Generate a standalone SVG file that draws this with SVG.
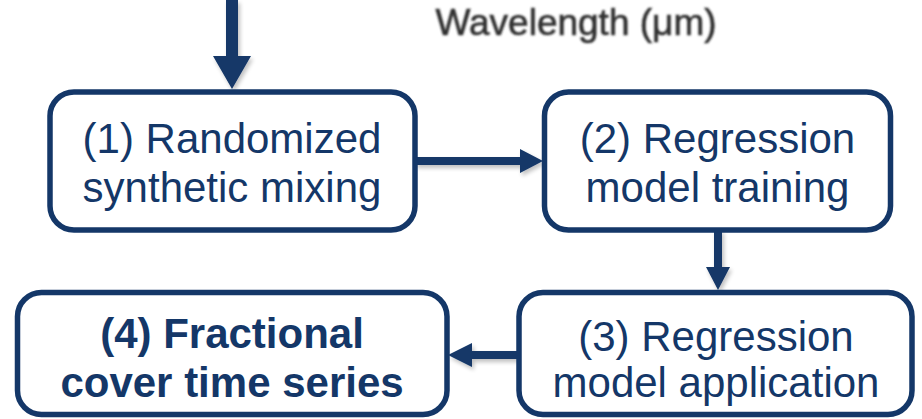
<svg xmlns="http://www.w3.org/2000/svg" width="922" height="419" viewBox="0 0 922 419">
<defs>
<style>
.box{fill:#ffffff;stroke:#143768;stroke-width:5.5}
.t{font-family:"Liberation Sans",Arial,sans-serif;font-size:42px;fill:#143768;text-anchor:middle}
.b{font-weight:bold}
.arrow{fill:#143768;stroke:none}
.wl{font-family:"Liberation Sans",Arial,sans-serif;font-size:37px;fill:#2e2e2e;text-anchor:middle;stroke:#2e2e2e;stroke-width:0.6}
</style>
<filter id="blur" x="-5%" y="-20%" width="110%" height="140%"><feGaussianBlur stdDeviation="0.8"/></filter>
<filter id="shadow" x="-20%" y="-20%" width="140%" height="160%">
<feGaussianBlur in="SourceAlpha" stdDeviation="2"/>
<feOffset dx="2" dy="3" result="o"/>
<feComponentTransfer><feFuncA type="linear" slope="0.25"/></feComponentTransfer>
<feMerge><feMergeNode/><feMergeNode in="SourceGraphic"/></feMerge>
</filter>
</defs>
<rect width="922" height="419" fill="#ffffff"/>
<text class="wl" x="576" y="35" filter="url(#blur)">Wavelength (μm)</text>
<g id="connectors" filter="url(#shadow)">
<path class="arrow" d="M226,0 H238 V56 H251 L232,89 L213,56 H226 Z"/>
<path class="arrow" d="M415,157 H520 V149 L543,161 L520,173 V165 H415 Z"/>
<path class="arrow" d="M714,230 H722 V267 H730 L718,290 L706,267 H714 Z"/>
<path class="arrow" d="M519,351 H472 V343 L448,355 L472,367 V359 H519 Z"/>
</g>
<g id="node1">
<rect class="box" x="50" y="92" width="365" height="138" rx="24"/>
<text class="t" x="232" y="153">(1) Randomized</text>
<text class="t" x="232" y="202">synthetic mixing</text>
</g>
<g id="node2">
<rect class="box" x="544.5" y="92" width="346" height="138" rx="24"/>
<text class="t" x="717.5" y="153">(2) Regression</text>
<text class="t" x="717.5" y="202">model training</text>
</g>
<g id="node3">
<rect class="box" x="519" y="292.5" width="393" height="122" rx="24"/>
<text class="t" x="716" y="351">(3) Regression</text>
<text class="t" x="716" y="397">model application</text>
</g>
<g id="node4">
<rect class="box" x="17.5" y="292.5" width="429.5" height="122" rx="24"/>
<text class="t b" x="232" y="348">(4) Fractional</text>
<text class="t b" x="232" y="397">cover time series</text>
</g>
</svg>
